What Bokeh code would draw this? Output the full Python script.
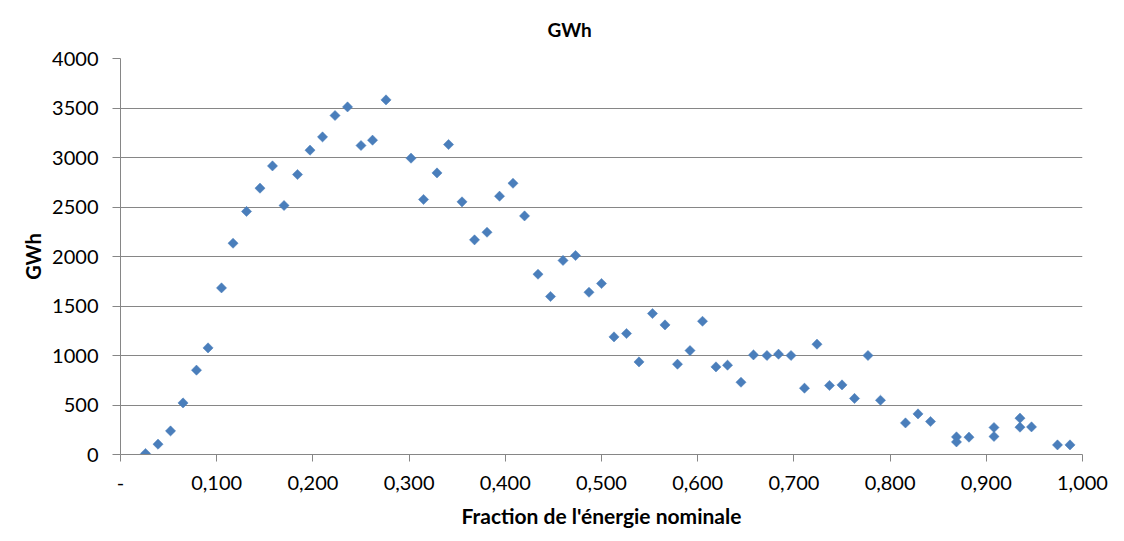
from bokeh.plotting import figure
from bokeh.models import (Range1d, FixedTicker, CustomJSTickFormatter,
                          ColumnDataSource)
from bokeh.embed import file_html
from bokeh.resources import INLINE
import math

# --- data ---
fraction = [0.026, 0.039, 0.052, 0.065, 0.079, 0.091, 0.105, 0.117, 0.131, 0.145,
            0.158, 0.170, 0.184, 0.197, 0.210, 0.223, 0.236, 0.250, 0.262, 0.276,
            0.302, 0.315, 0.329, 0.341, 0.355, 0.368, 0.381, 0.394, 0.408, 0.420,
            0.434, 0.447, 0.460, 0.473, 0.487, 0.500, 0.513, 0.526, 0.539, 0.553,
            0.566, 0.579, 0.592, 0.605, 0.619, 0.631, 0.645, 0.658, 0.672, 0.684,
            0.697, 0.711, 0.724, 0.737, 0.750, 0.763, 0.777, 0.790, 0.816, 0.829,
            0.842, 0.869, 0.869, 0.882, 0.908, 0.908, 0.935, 0.935, 0.947, 0.974,
            0.987]
gwh = [10, 104, 238, 521, 852, 1077, 1683, 2134, 2455, 2690,
       2915, 2515, 2828, 3074, 3208, 3424, 3511, 3121, 3175, 3582,
       2993, 2576, 2844, 3131, 2552, 2168, 2245, 2609, 2740, 2410,
       1821, 1596, 1960, 2010, 1639, 1727, 1188, 1222, 935, 1424,
       1309, 912, 1050, 1346, 885, 902, 730, 1006, 1000, 1013,
       1000, 670, 1114, 697, 703, 566, 1000, 548, 319, 410,
       333, 178, 127, 175, 273, 182, 367, 276, 279, 97,
       97]
x_ticks = [0.0, 0.1, 0.2, 0.3, 0.4, 0.5, 0.6, 0.7, 0.8, 0.9, 1.0]
y_ticks = [0, 500, 1000, 1500, 2000, 2500, 3000, 3500, 4000]
title_text = "GWh"
x_label = "Fraction de l'énergie nominale"
y_label = "GWh"

FONT = "Lato"
GRID = "#868686"

p = figure(width=1124, height=541, output_backend="svg", toolbar_location=None,
           x_range=Range1d(0, 1.0), y_range=Range1d(0, 4000),
           min_border_left=120, min_border_right=42, min_border_top=58,
           min_border_bottom=87)
p.outline_line_color = None
p.background_fill_color = "white"
p.border_fill_color = "white"

p.title.text = title_text
p.title.align = "left"
p.title.offset = 427
p.title.standoff = 31
p.title.vertical_align = "top"
p.title.text_font = FONT
p.title.text_font_size = "19px"
p.title.text_font_style = "bold"
p.title.text_color = "#000000"

src = ColumnDataSource(dict(x=fraction, y=gwh))
p.scatter("x", "y", source=src, marker="square", size=7.2, angle=math.pi / 4,
          fill_color="#4a7ebb", line_color="#4a7ebb", line_width=0.5)

# x axis
xa = p.xaxis[0]
xa.ticker = FixedTicker(ticks=x_ticks)
xa.formatter = CustomJSTickFormatter(code="""
    if (Math.abs(tick) < 1e-9) { return "-"; }
    return tick.toFixed(3).replace(".", ",");
""")
xa.axis_line_color = GRID
xa.major_tick_line_color = GRID
xa.major_tick_out = 7
xa.major_tick_in = 0
xa.minor_tick_line_color = None
xa.major_label_text_font = FONT
xa.major_label_text_font_size = "20px"
xa.major_label_text_color = "#000000"
xa.major_label_standoff = 14
xa.axis_label = x_label
xa.axis_label_text_font = FONT
xa.axis_label_text_font_size = "21px"
xa.axis_label_text_font_style = "bold"
xa.axis_label_text_color = "#000000"
xa.axis_label_standoff = 10

# y axis
ya = p.yaxis[0]
ya.ticker = FixedTicker(ticks=y_ticks)
ya.axis_line_color = GRID
ya.major_tick_line_color = GRID
ya.major_tick_out = 8
ya.major_tick_in = 0
ya.minor_tick_line_color = None
ya.major_label_text_font = FONT
ya.major_label_text_font_size = "20px"
ya.major_label_text_color = "#000000"
ya.major_label_standoff = 14
ya.axis_label = y_label
ya.axis_label_text_font = FONT
ya.axis_label_text_font_size = "20px"
ya.axis_label_text_font_style = "bold"
ya.axis_label_text_color = "#000000"
ya.axis_label_standoff = 4

p.xgrid.grid_line_color = None
p.ygrid.ticker = FixedTicker(ticks=y_ticks)
p.ygrid.grid_line_color = GRID
p.ygrid.grid_line_width = 1

open("out.html", "w").write(file_html(p, INLINE))
